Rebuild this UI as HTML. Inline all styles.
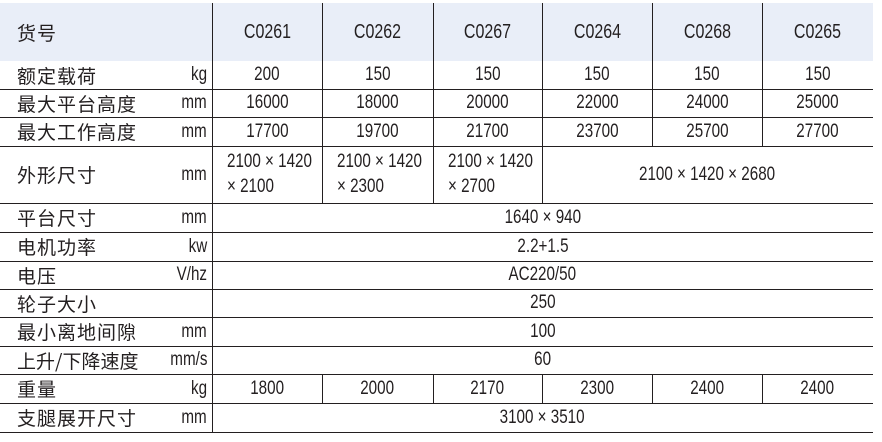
<!DOCTYPE html>
<html><head><meta charset="utf-8"><style>
body{margin:0;width:882px;height:442px;background:#fff;position:relative;overflow:hidden;font-family:"Liberation Sans","Noto Sans CJK SC",sans-serif;color:#231f20}
.h{position:absolute;left:0;width:873px;height:1px;background:#231f20}
.v{position:absolute;width:1px;background:#231f20}
.t{position:absolute;display:flex;align-items:center;justify-content:center;font-size:19px;white-space:nowrap}
.t span,.u span,.m span{display:inline-block;transform:scaleX(.8)}
.l{position:absolute;left:17px;font-family:"Noto Sans CJK SC",sans-serif;font-size:19px;font-weight:400;display:flex;align-items:center;letter-spacing:1px}
.u{position:absolute;right:675px;font-size:19px;display:flex;align-items:center;justify-content:flex-end}
.u span{transform-origin:right center}
.m{position:absolute;font-size:19px;line-height:25px;white-space:nowrap}
.m span{transform-origin:left center}
</style></head><body>
<div style="position:absolute;left:0;top:3px;width:873px;height:58px;background:#e9eef8"></div>
<div id="c"></div>
<script>
var c=document.getElementById('c'),H='';
var ys=[61,89,117,146,203,232,261,289,317,346,374,403,432];
ys.forEach(function(y,i){if(i>0)H+='<div class="h" style="top:'+y+'px"></div>';});
var xs=[212,322,433,542,652,762,873];
function v(x,a,b){H+='<div class="v" style="left:'+x+'px;top:'+a+'px;height:'+(b-a+1)+'px"></div>';}
v(212,3,432);
[322,433].forEach(function(x){v(x,3,203);});
[542,652,762].forEach(function(x){v(x,3,146);});
v(542,146,203);
[322,433,542,652,762].forEach(function(x){v(x,374,403);});
function t(x1,x2,a,b,s,st){H+='<div class="t" style="left:'+x1+'px;width:'+(x2-x1)+'px;top:'+a+'px;height:'+(b-a)+'px;'+(st||'')+'"><span>'+s+'</span></div>';}
var hd=['C0261','C0262','C0267','C0264','C0268','C0265'];
for(var i=0;i<6;i++)t(xs[i],xs[i+1],3,61,hd[i],'font-size:20px');
var rows=[['200','150','150','150','150','150'],['16000','18000','20000','22000','24000','25000'],['17700','19700','21700','23700','25700','27700']];
rows.forEach(function(r,k){for(var i=0;i<6;i++)t(xs[i],xs[i+1],ys[k],ys[k+1],r[i]);});
var two=['2100','2300','2700'];
for(var i=0;i<3;i++)H+='<div class="m" style="left:'+(xs[i]+15)+'px;top:149px"><span>2100 × 1420<br>× '+two[i]+'</span></div>';
t(542,873,146,203,'2100 × 1420 × 2680');
var sp=['1640 × 940','2.2+1.5','AC220/50','250','100','60'];
for(var k=0;k<6;k++)t(212,873,ys[4+k],ys[5+k],sp[k]);
var w=['1800','2000','2170','2300','2400','2400'];
for(var i=0;i<6;i++)t(xs[i],xs[i+1],374,403,w[i]);
t(212,873,403,432,'3100 × 3510');
var L=[['货号',''],['额定载荷','kg'],['最大平台高度','mm'],['最大工作高度','mm'],['外形尺寸','mm'],['平台尺寸','mm'],['电机功率','kw'],['电压','V/hz'],['轮子大小',''],['最小离地间隙','mm'],['上升/下降速度','mm/s'],['重量','kg'],['支腿展开尺寸','mm']];
var Y=[3].concat(ys);
L.forEach(function(l,k){H+='<div class="l" style="top:'+Y[k]+'px;height:'+(Y[k+1]-Y[k])+'px'+(l[0].length>6?';letter-spacing:0':'')+'">'+l[0]+'</div>';
if(l[1])H+='<div class="u" style="top:'+Y[k]+'px;height:'+(Y[k+1]-Y[k])+'px"><span>'+l[1]+'</span></div>';});
c.innerHTML=H;
</script>
</body></html>
